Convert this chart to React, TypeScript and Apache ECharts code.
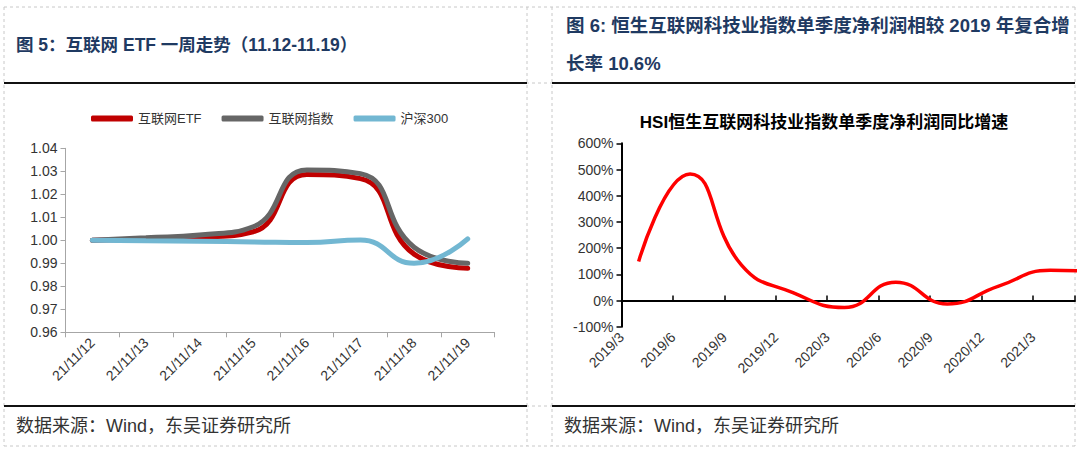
import React, { useEffect, useRef } from "react";
import * as echarts from "echarts";

// ---- Left chart data: 互联网 ETF 一周走势 ----
const etfCategories = ["21/11/12", "21/11/13", "21/11/14", "21/11/15", "21/11/16", "21/11/17", "21/11/18", "21/11/19"];
const etfValues = [1.0, 1.0006, 1.0013, 1.0037, 1.0286, 1.0268, 0.994, 0.9878];
const indexValues = [1.0, 1.0011, 1.0023, 1.0059, 1.0306, 1.029, 0.997, 0.99];
const hs300Values = [1.0, 0.9998, 0.9996, 0.9993, 0.999, 1.0001, 0.99, 1.0006];
const leftSeriesNames = ["互联网ETF", "互联网指数", "沪深300"];
const leftColors = ["#C00000", "#666666", "#72B7D2"];

// ---- Right chart data: HSI 恒生互联网科技业指数单季度净利润同比增速 ----
const quarterLabels = ["2019/3", "2019/6", "2019/9", "2019/12", "2020/3", "2020/6", "2020/9", "2020/12", "2021/3", "2021/6"];
const profitGrowth = [149, 483, 135, 30, -27, 70, -13, 55, 115, 110];

const FONT = "'Liberation Sans', Arial, 'Noto Sans CJK SC', sans-serif";
const CJK = "'Liberation Sans', 'Noto Sans CJK SC', sans-serif";

// months since 2019/3 (axis origin = start of March 2019)
const monthIndex = (label: string) => {
  const [y, m] = label.split("/").map(Number);
  return (y - 2019) * 12 + (m - 3);
};
const monthLabel = (v: number) => {
  const total = Math.round(v) + 2; // months since 2019/1 (0-based)
  const y = 2019 + Math.floor(total / 12);
  const m = (total % 12) + 1;
  return `${y}/${m}`;
};

export default function App() {
  const ref = useRef<HTMLDivElement>(null);
  useEffect(() => {
    if (!ref.current) return;
    const chart = echarts.init(ref.current, undefined, { renderer: "svg" });
    const dash = { stroke: "#c8c8c8", lineWidth: 1, lineDash: [3, 3] };
    const vLines = [4, 527, 552, 1075].map((x) => ({
      type: "line",
      shape: { x1: x, y1: 7, x2: x, y2: 446 },
      style: dash,
      silent: true,
    }));
    const hLines = [7, 83, 406, 446].map((y) => ({
      type: "line",
      shape: { x1: 4, y1: y, x2: 1075, y2: y },
      style: dash,
      silent: true,
    }));
    const thick = [
      [4, 527, 83],
      [552, 1075, 83],
      [4, 527, 406],
      [552, 1075, 406],
    ].map(([a, b, y]) => ({
      type: "line",
      shape: { x1: a, y1: y, x2: b, y2: y },
      style: { stroke: "#111", lineWidth: 2 },
      silent: true,
    }));
    const titleStyle = { fill: "#1F3A62", fontSize: 17.5, fontWeight: "bold", fontFamily: CJK };
    const texts = [
      { type: "text", x: 16, y: 45, style: { ...titleStyle, text: "图 5：互联网 ETF 一周走势（11.12-11.19）", verticalAlign: "middle" } },
      { type: "text", x: 566, y: 25, style: { ...titleStyle, fontSize: 18.5, text: "图 6: 恒生互联网科技业指数单季度净利润相较 2019 年复合增", verticalAlign: "middle" } },
      { type: "text", x: 566, y: 63, style: { ...titleStyle, fontSize: 18.5, text: "长率 10.6%", verticalAlign: "middle" } },
      { type: "text", x: 16, y: 426, style: { text: "数据来源：Wind，东吴证券研究所", fill: "#333", fontSize: 18, fontFamily: CJK, verticalAlign: "middle" } },
      { type: "text", x: 564, y: 426, style: { text: "数据来源：Wind，东吴证券研究所", fill: "#333", fontSize: 18, fontFamily: CJK, verticalAlign: "middle" } },
      { type: "text", x: 824, y: 122, style: { text: "HSI恒生互联网科技业指数单季度净利润同比增速", fill: "#000", fontSize: 17, fontWeight: "bold", fontFamily: CJK, align: "center", verticalAlign: "middle" } },
    ];

    const leftSeries = [etfValues, indexValues, hs300Values].map((data, i) => ({
      name: leftSeriesNames[i],
      type: "line",
      xAxisIndex: 0,
      yAxisIndex: 0,
      data,
      smooth: true,
      symbol: "none",
      lineStyle: { width: 5, color: leftColors[i], cap: "round" },
      itemStyle: { color: leftColors[i] },
    }));

    const rightData = quarterLabels.map((q, i) => [monthIndex(q) + 1, profitGrowth[i]]);

    chart.setOption({
      animation: false,
      backgroundColor: "#fff",
      graphic: [...vLines, ...hLines, ...thick, ...texts],
      legend: {
        data: leftSeriesNames,
        left: 86,
        top: 107,
        icon: "roundRect",
        itemWidth: 42,
        itemHeight: 6,
        itemGap: 20,
        textStyle: { fontSize: 13, color: "#333", fontFamily: CJK },
      },
      grid: [
        { left: 65.5, right: 1080 - 494.5, top: 148.3, bottom: 451 - 332.3 },
        { left: 621.5, right: 5, top: 143.3, bottom: 451 - 326.7 },
      ],
      xAxis: [
        {
          type: "category",
          gridIndex: 0,
          data: etfCategories,
          boundaryGap: true,
          axisLine: { lineStyle: { color: "#a6a6a6", width: 1 } },
          axisTick: { show: true, length: 5, lineStyle: { color: "#a6a6a6" }, alignWithLabel: false },
          axisLabel: { rotate: 45, interval: 0, fontSize: 14, color: "#333", fontFamily: FONT, margin: 8 },
        },
        {
          type: "value",
          gridIndex: 1,
          min: 0,
          max: 26.45,
          interval: 3,
          axisLine: { show: false, onZero: false },
          axisTick: { show: false },
          splitLine: { show: false },
          axisLabel: {
            rotate: 45,
            fontSize: 14,
            color: "#333",
            fontFamily: FONT,
            margin: 8,
            showMaxLabel: false,
            formatter: (v: number) => monthLabel(v),
          },
        },
        {
          type: "value",
          gridIndex: 1,
          min: 0,
          max: 26.45,
          interval: 3,
          position: "bottom",
          axisLine: { show: true, onZero: true, lineStyle: { color: "#000", width: 2 } },
          axisTick: { show: true, inside: true, length: 5, lineStyle: { color: "#000", width: 1.5 } },
          axisLabel: { show: false },
          splitLine: { show: false },
        },
      ],
      yAxis: [
        {
          type: "value",
          gridIndex: 0,
          min: 0.96,
          max: 1.04,
          interval: 0.01,
          axisLine: { show: true, lineStyle: { color: "#a6a6a6", width: 1 } },
          axisTick: { show: true, length: 5, lineStyle: { color: "#a6a6a6" } },
          splitLine: { show: false },
          axisLabel: { fontSize: 14, color: "#333", fontFamily: FONT, margin: 8, formatter: (v: number) => v.toFixed(2) },
        },
        {
          type: "value",
          gridIndex: 1,
          min: -100,
          max: 600,
          interval: 100,
          axisLine: { show: true, onZero: false, lineStyle: { color: "#000", width: 2 } },
          axisTick: { show: true, length: 5, lineStyle: { color: "#000", width: 1.5 } },
          splitLine: { show: false },
          axisLabel: { fontSize: 14, color: "#333", fontFamily: FONT, margin: 8, formatter: "{value}%" },
        },
      ],
      series: [
        ...leftSeries,
        {
          name: "HSI净利润同比增速",
          type: "line",
          xAxisIndex: 1,
          yAxisIndex: 1,
          data: rightData,
          smooth: true,
          symbol: "none",
          clip: true,
          lineStyle: { width: 3.5, color: "#FF0000" },
          itemStyle: { color: "#FF0000" },
        },
      ],
    });
    return () => chart.dispose();
  }, []);
  return (
    <div
      ref={ref}
      style={{ position: "absolute", left: 0, top: 0, width: 1080, height: 451, background: "#fff" }}
    />
  );
}
